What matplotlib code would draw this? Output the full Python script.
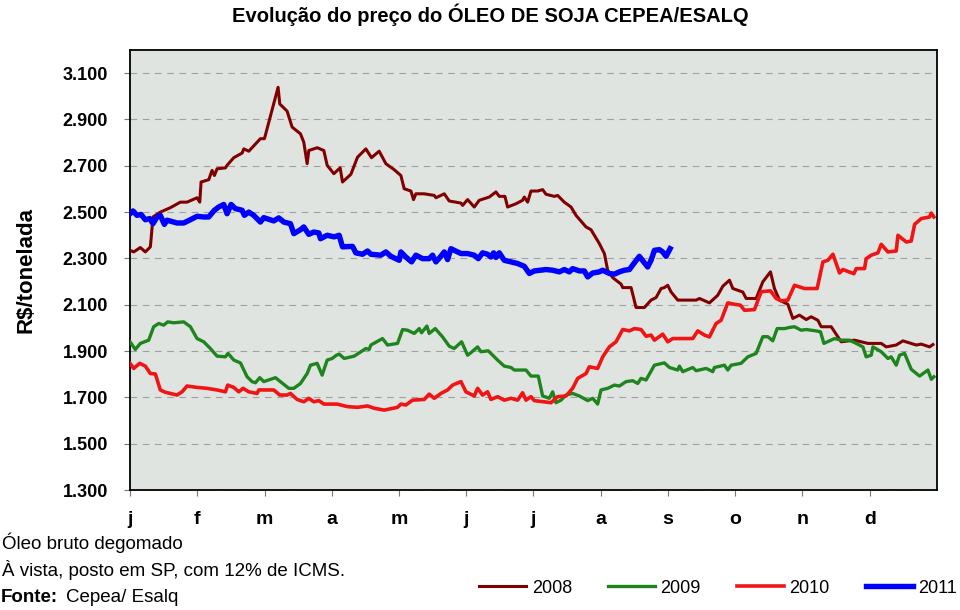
import matplotlib
matplotlib.use("Agg")
import matplotlib.pyplot as plt
from matplotlib.ticker import FuncFormatter

plt.rcParams["font.family"] = ["Liberation Sans", "DejaVu Sans"]

# month position (0 = start of jan) and price in R$/t
x_2008 = [0.0, 0.055, 0.154, 0.228, 0.303, 0.342, 0.451, 0.600, 0.749, 0.848,
          0.997, 1.037, 1.057, 1.171, 1.220, 1.255, 1.295, 1.419, 1.443, 1.543,
          1.667, 1.692, 1.766, 1.890, 1.939, 1.999, 2.202, 2.227, 2.336, 2.411,
          2.535, 2.584, 2.634, 2.659, 2.783, 2.882, 2.932, 3.031,
          3.125, 3.160, 3.284, 3.383, 3.507, 3.591, 3.705, 3.805, 3.929, 4.028,
          4.077, 4.177, 4.216, 4.251, 4.375, 4.524, 4.549, 4.673, 4.747, 4.921,
          4.946, 5.020, 5.119, 5.193, 5.342, 5.441, 5.491, 5.575, 5.615, 5.739,
          5.838, 5.863, 5.913, 5.962, 6.062,
          6.136, 6.186, 6.310, 6.359, 6.458, 6.558, 6.632, 6.781, 6.855, 6.979,
          7.054, 7.103, 7.178, 7.302, 7.327, 7.451, 7.525, 7.649, 7.748, 7.823,
          7.897, 7.946, 7.996, 8.046, 8.145, 8.418, 8.468, 8.616, 8.740, 8.815,
          8.914, 8.964,
          9.112, 9.162, 9.311, 9.410, 9.524, 9.583, 9.658, 9.782, 9.856, 9.955,
          10.055, 10.129, 10.228, 10.278, 10.427, 10.575, 10.774, 10.972, 11.171, 11.245,
          11.394, 11.493, 11.617, 11.692, 11.766, 11.890, 11.939]
y_2008 = [2335, 2328, 2347, 2328, 2350, 2479, 2500, 2519, 2543, 2543,
          2562, 2543, 2630, 2640, 2680, 2658, 2687, 2691, 2702, 2735,
          2755, 2773, 2763, 2802, 2817, 2817, 3039, 2967, 2936, 2867,
          2838, 2802, 2709, 2766, 2778, 2766, 2702, 2666,
          2691, 2630, 2663, 2737, 2773, 2735, 2763, 2709, 2683, 2658,
          2601, 2591, 2554, 2579, 2579, 2572, 2562, 2579, 2548, 2539,
          2529, 2554, 2522, 2551, 2565, 2587, 2568, 2568, 2522, 2536,
          2551, 2565, 2543, 2591, 2591,
          2597, 2577, 2568, 2572, 2543, 2522, 2486, 2436, 2424, 2364,
          2321, 2249, 2217, 2189, 2174, 2174, 2088, 2088, 2120, 2131,
          2170, 2174, 2184, 2155, 2120, 2120, 2127, 2108, 2141, 2180,
          2206, 2170,
          2155, 2127, 2127, 2199, 2242, 2170, 2120, 2102, 2041, 2055,
          2036, 2048, 2033, 2005, 2005, 1940, 1947, 1933, 1933, 1918,
          1926, 1944, 1933, 1926, 1930, 1918, 1928]

x_2009 = [0.0, 0.079, 0.154, 0.278, 0.352, 0.427, 0.501, 0.561, 0.650, 0.799,
          0.898, 0.997, 1.096, 1.195, 1.295, 1.419, 1.458, 1.543, 1.642, 1.741,
          1.815, 1.865, 1.930, 1.989, 2.163, 2.237, 2.361, 2.436, 2.535, 2.634,
          2.684, 2.783, 2.857, 2.932, 3.006, 3.070,
          3.110, 3.185, 3.333, 3.433, 3.507, 3.557, 3.581, 3.755, 3.829, 3.978,
          4.053, 4.127, 4.226, 4.301, 4.335, 4.415, 4.449, 4.539, 4.648, 4.747,
          4.821, 4.931, 5.020, 5.069, 5.169, 5.218, 5.327, 5.466, 5.565, 5.665,
          5.714, 5.888, 5.962, 6.071,
          6.136, 6.235, 6.285, 6.334, 6.409, 6.483, 6.582, 6.682, 6.806, 6.880,
          6.954, 7.004, 7.103, 7.202, 7.277, 7.376, 7.475, 7.550, 7.599, 7.674,
          7.798, 7.946, 8.021, 8.145, 8.170, 8.219, 8.368, 8.418, 8.567, 8.666,
          8.690, 8.839, 8.889, 8.939,
          9.087, 9.187, 9.311, 9.410, 9.484, 9.558, 9.623, 9.732, 9.807, 9.881,
          9.980, 10.055, 10.203, 10.268, 10.318, 10.476, 10.575, 10.699, 10.799, 10.898,
          10.947, 11.022, 11.047, 11.171, 11.270, 11.319, 11.394, 11.443, 11.518, 11.617,
          11.741, 11.865, 11.915, 11.954]
y_2009 = [1940, 1907, 1933, 1947, 2005, 2019, 2012, 2026, 2022, 2026,
          2005, 1954, 1940, 1911, 1878, 1875, 1890, 1861, 1849, 1789,
          1768, 1763, 1785, 1768, 1785, 1768, 1739, 1739, 1760, 1803,
          1839, 1847, 1796, 1861, 1868, 1882,
          1887, 1868, 1878, 1897, 1911, 1907, 1926, 1954, 1926, 1933,
          1993, 1990, 1976, 1997, 1979, 2008, 1976, 1997, 1961, 1921,
          1911, 1940, 1882, 1893, 1918, 1897, 1901, 1861, 1835, 1829,
          1818, 1818, 1792, 1792,
          1706, 1696, 1724, 1677, 1688, 1710, 1717, 1706, 1686, 1696,
          1671, 1732, 1739, 1753, 1749, 1768, 1772, 1760, 1782, 1775,
          1839, 1849, 1829, 1818, 1835, 1811, 1829, 1815, 1825, 1811,
          1829, 1839, 1818, 1839,
          1847, 1875, 1890, 1962, 1962, 1944, 1997, 1997, 2002, 2005,
          1990, 1993, 1987, 1983, 1933, 1954, 1947, 1947, 1933, 1918,
          1875, 1882, 1918, 1897, 1868, 1875, 1839, 1882, 1890, 1821,
          1792, 1818, 1778, 1789]

x_2010 = [0.0, 0.055, 0.144, 0.228, 0.303, 0.377, 0.451, 0.526, 0.699, 0.774,
          0.848, 0.997, 1.146, 1.295, 1.419, 1.453, 1.543, 1.617, 1.682, 1.766,
          1.890, 1.915, 2.138, 2.227, 2.336, 2.386, 2.485, 2.584, 2.659, 2.733,
          2.808, 2.882, 3.080,
          3.234, 3.383, 3.532, 3.631, 3.780, 3.978, 4.028, 4.102, 4.201, 4.375,
          4.449, 4.524, 4.623, 4.722, 4.797, 4.921, 4.995, 5.119, 5.169, 5.243,
          5.317, 5.367, 5.466, 5.565, 5.665, 5.764, 5.838, 5.888, 5.962, 6.012,
          6.260, 6.359, 6.483, 6.582, 6.657, 6.781, 6.830, 6.954, 7.029, 7.128,
          7.227, 7.327, 7.426, 7.500, 7.599, 7.674, 7.748, 7.798, 7.922, 7.996,
          8.070, 8.219, 8.368, 8.442, 8.542, 8.616, 8.715, 8.790, 8.889,
          8.988, 9.077, 9.137, 9.286, 9.385, 9.524, 9.608, 9.683, 9.782, 9.881,
          10.030, 10.218, 10.303, 10.377, 10.452, 10.551, 10.600, 10.764, 10.799, 10.923,
          10.947, 11.022, 11.121, 11.171, 11.270, 11.394, 11.419, 11.543, 11.617, 11.667,
          11.766, 11.890, 11.915, 11.954]
y_2010 = [1847, 1825, 1847, 1835, 1803, 1801, 1732, 1722, 1710, 1724,
          1749, 1743, 1739, 1732, 1724, 1753, 1743, 1724, 1739, 1724,
          1717, 1732, 1732, 1710, 1710, 1717, 1691, 1681, 1696, 1681,
          1686, 1671, 1671,
          1660, 1657, 1663, 1653, 1645, 1657, 1671, 1667, 1688, 1691,
          1714, 1696, 1717, 1732, 1753, 1768, 1724, 1706, 1739, 1710,
          1724, 1691, 1703, 1688, 1696, 1688, 1720, 1688, 1703, 1686,
          1677, 1703, 1706, 1739, 1782, 1803, 1832, 1825, 1875, 1918,
          1940, 1993, 1987, 1997, 1993, 1964, 1969, 1947, 1973, 1940,
          1954, 1954, 1954, 1987, 1969, 1961, 2019, 2033, 2108,
          2102, 2098, 2076, 2079, 2156, 2160, 2127, 2117, 2120, 2184,
          2170, 2170, 2285, 2292, 2318, 2237, 2252, 2234, 2256, 2256,
          2299, 2314, 2324, 2361, 2328, 2332, 2400, 2371, 2375, 2447,
          2472, 2479, 2496, 2479]

x_2011 = [0.0, 0.045, 0.104, 0.164, 0.228, 0.293, 0.342, 0.402, 0.451, 0.511,
          0.551, 0.699, 0.799, 0.898, 0.997, 1.096, 1.171, 1.255, 1.319, 1.394,
          1.443, 1.503, 1.567, 1.667, 1.701, 1.766, 1.840, 1.939, 1.989, 2.138,
          2.212, 2.287, 2.386, 2.436, 2.535, 2.584, 2.659, 2.733, 2.808, 2.832,
          2.932, 3.036,
          3.110, 3.160, 3.309, 3.358, 3.457, 3.532, 3.581, 3.730, 3.805, 3.879,
          4.003, 4.028, 4.102, 4.187, 4.251, 4.350, 4.449, 4.499, 4.549, 4.613,
          4.673, 4.722, 4.772, 4.871, 4.921, 5.020, 5.119, 5.179, 5.243, 5.317,
          5.367, 5.407, 5.441, 5.491, 5.565, 5.665, 5.764, 5.863, 5.938, 6.012,
          6.186, 6.285, 6.384, 6.458, 6.533, 6.582, 6.682, 6.756, 6.806, 6.880,
          6.979, 7.029, 7.128, 7.202, 7.277, 7.351, 7.426, 7.500, 7.574, 7.649,
          7.698, 7.748, 7.798, 7.872, 7.922, 7.971, 8.031]
y_2011 = [2493, 2505, 2486, 2490, 2467, 2472, 2450, 2479, 2486, 2447,
          2465, 2453, 2453, 2467, 2482, 2479, 2479, 2508, 2522, 2533,
          2493, 2533, 2515, 2508, 2486, 2500, 2486, 2457, 2476, 2462,
          2475, 2457, 2450, 2407, 2424, 2436, 2404, 2414, 2410, 2385,
          2400, 2393,
          2400, 2350, 2352, 2324, 2318, 2332, 2318, 2314, 2328, 2309,
          2292, 2328, 2306, 2285, 2314, 2299, 2299, 2314, 2285, 2306,
          2328, 2295, 2342, 2328, 2321, 2321, 2314, 2299, 2324, 2318,
          2306, 2324, 2304, 2324, 2292, 2285, 2278, 2266, 2235, 2246,
          2252, 2249, 2242, 2252, 2242, 2256, 2246, 2246, 2220, 2237,
          2242, 2249, 2235, 2232, 2242, 2249, 2252, 2281, 2309, 2281,
          2263, 2292, 2335, 2338, 2328, 2309, 2342]

month_labels = ["j", "f", "m", "a", "m", "j", "j", "a", "s", "o", "n", "d"]
y_ticks = [1300, 1500, 1700, 1900, 2100, 2300, 2500, 2700, 2900, 3100]

fig = plt.figure(figsize=(9.6, 6.1), dpi=100)
ax = fig.add_axes([130 / 960, 120 / 610, 807 / 960, 440 / 610])
ax.set_facecolor("#E0E4E0")

ax.plot(x_2008, y_2008, color="#800000", lw=2.2, label="2008", zorder=3)
ax.plot(x_2009, y_2009, color="#1E841E", lw=2.4, label="2009", zorder=3)
ax.plot(x_2010, y_2010, color="#F01414", lw=2.6, label="2010", zorder=3)
ax.plot(x_2011, y_2011, color="#0000FF", lw=3.9, label="2011", zorder=4)

ax.set_xlim(0, 12)
ax.set_ylim(1300, 3200)
ax.set_xticks(range(12))
ax.set_xticklabels(month_labels, fontsize=14, fontweight="bold")
ax.set_yticks(y_ticks)
ax.yaxis.set_major_formatter(FuncFormatter(lambda v, p: f"{v:,.0f}".replace(",", ".")))
for lab in ax.get_yticklabels():
    lab.set_fontsize(13)
    lab.set_fontweight("bold")
ax.tick_params(axis="y", length=4, color="#777777", pad=12)
ax.tick_params(axis="x", length=4, color="#777777", pad=11)

ax.grid(axis="y", color="#A0A0A0", lw=0.8, linestyle=(0, (6, 5)))
ax.set_axisbelow(True)
for side in ["left", "bottom", "right", "top"]:
    ax.spines[side].set_color("black")
    ax.spines[side].set_linewidth(1.3)

fig.text(0.027, 0.557, "R$/tonelada", rotation=90, ha="center", va="center",
         fontsize=16, fontweight="bold")
fig.text(0.511, 0.975, "Evolução do preço do ÓLEO DE SOJA CEPEA/ESALQ",
         ha="center", va="center", fontsize=14.5, fontweight="bold")

fig.text(0.002, 0.110, "Óleo bruto degomado", ha="left", va="center", fontsize=13.5)
fig.text(0.002, 0.066, "À vista, posto em SP, com 12% de ICMS.", ha="left", va="center", fontsize=13.5)
fig.text(0.001, 0.021, "Fonte:", ha="left", va="center", fontsize=13.5, fontweight="bold")
fig.text(0.069, 0.021, "Cepea/ Esalq", ha="left", va="center", fontsize=13.5)

fig.legend(loc="center", bbox_to_anchor=(0.748, 0.036), ncol=4, frameon=False,
           fontsize=13, handlelength=2.6, handletextpad=0.3, columnspacing=2.0)

fig.savefig("out.png", dpi=100)
